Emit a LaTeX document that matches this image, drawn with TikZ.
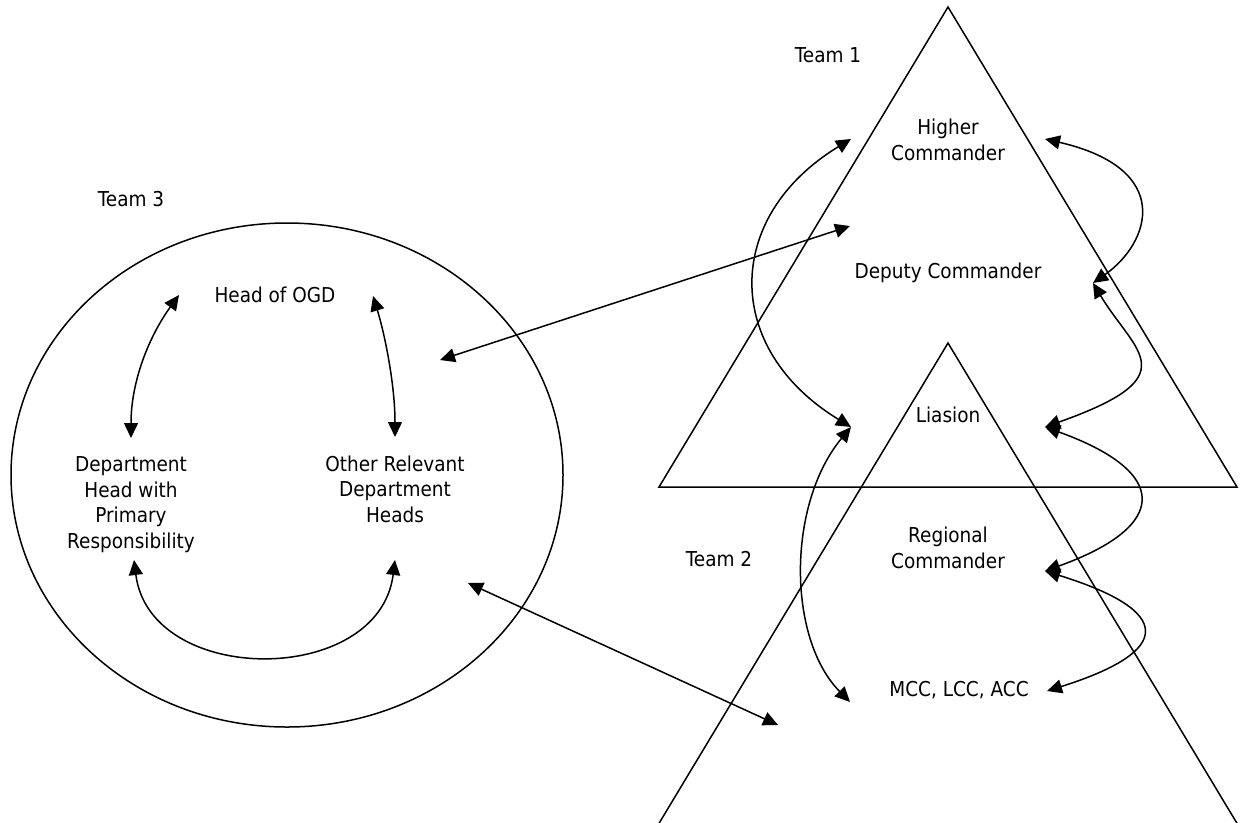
\documentclass[tikz,border=0pt]{standalone}
\usepackage{fontspec}
\setmainfont{DejaVu Sans}[FakeStretch=0.9]
\usetikzlibrary{arrows.meta}
\begin{document}
\begin{tikzpicture}[x=1pt,y=-1pt,
  lbl/.style={inner sep=0pt, align=center, anchor=base,
    font=\fontsize{20.5}{25.5}\selectfont},
  outline/.style={line width=1.5pt, line join=miter},
  link/.style={line width=1.5pt,
    {Triangle[length=15pt,width=14pt]}-{Triangle[length=15pt,width=14pt]}}]
\useasboundingbox (0,0) rectangle (1244,822);

% team shapes
\draw[outline] (948,7) -- (1237,487) -- (659,487) -- cycle;
\begin{scope}
  \clip (0,0) rectangle (1244,822);
  \draw[outline] (948,343) -- (1241,830) -- (655,830) -- cycle;
\end{scope}
\draw[outline] (287,475) ellipse [x radius=276, y radius=252];

% labels
\node[lbl] (team1) at (828,62) {Team 1};
\node[lbl] (team2) at (719,566) {Team 2};
\node[lbl] (team3) at (131,206) {Team 3};
\node[lbl] (higher) at (948,160) {Higher\\Commander};
\node[lbl] (deputy) at (948,278) {Deputy Commander};
\node[lbl] (liasion) at (948,422) {Liasion};
\node[lbl] (regional) at (948,568) {Regional\\Commander};
\node[lbl] (mcc) at (959,696) {MCC, LCC, ACC};
\node[lbl] (ogd) at (275,302) {Head of OGD};
\node[lbl] (primary) at (131,548) {Department\\Head with\\Primary\\Responsibility};
\node[lbl] (other) at (395,522) {Other Relevant\\Department\\Heads};

% connector ends
\coordinate (hL) at (851,139);
\coordinate (hR) at (1045,139);
\coordinate (dL) at (850,226);
\coordinate (dR) at (1093,283);
\coordinate (lL) at (851,427);
\coordinate (lR) at (1045,427);
\coordinate (rR) at (1045,571);
\coordinate (mL) at (850,702);
\coordinate (mR) at (1047,691);
\coordinate (t2) at (778,725);
\coordinate (oL) at (179,295);
\coordinate (oR) at (373,296);
\coordinate (pT) at (131,438);
\coordinate (pB) at (134,560);
\coordinate (qT) at (395,437);
\coordinate (qB) at (395,560);
\coordinate (eT) at (440,360);
\coordinate (eB) at (468,583);

% connectors inside team 1 / team 2
\draw[link] (hL) .. controls (723,217) and (723,349) .. (lL);
\draw[link] (lL) .. controls (787,504) and (787,638) .. (mL);
\draw[link] (hR) .. controls (1175,169) and (1150,243) .. (dR);
\draw[link] (dR) .. controls (1135,353) and (1189,376) .. (lR);
\draw[link] (lR) .. controls (1170,472) and (1170,526) .. (rR);
\draw[link] (rR) .. controls (1174,611) and (1174,651) .. (mR);

% connectors inside team 3
\draw[link] (oL) .. controls (150,335) and (131,380) .. (pT);
\draw[link] (oR) .. controls (385,335) and (395,385) .. (qT);
\draw[link] (pB) .. controls (150,687) and (379,687) .. (qB);

% connectors between teams
\draw[link] (eT) -- (dL);
\draw[link] (eB) -- (t2);
\end{tikzpicture}
\end{document}
